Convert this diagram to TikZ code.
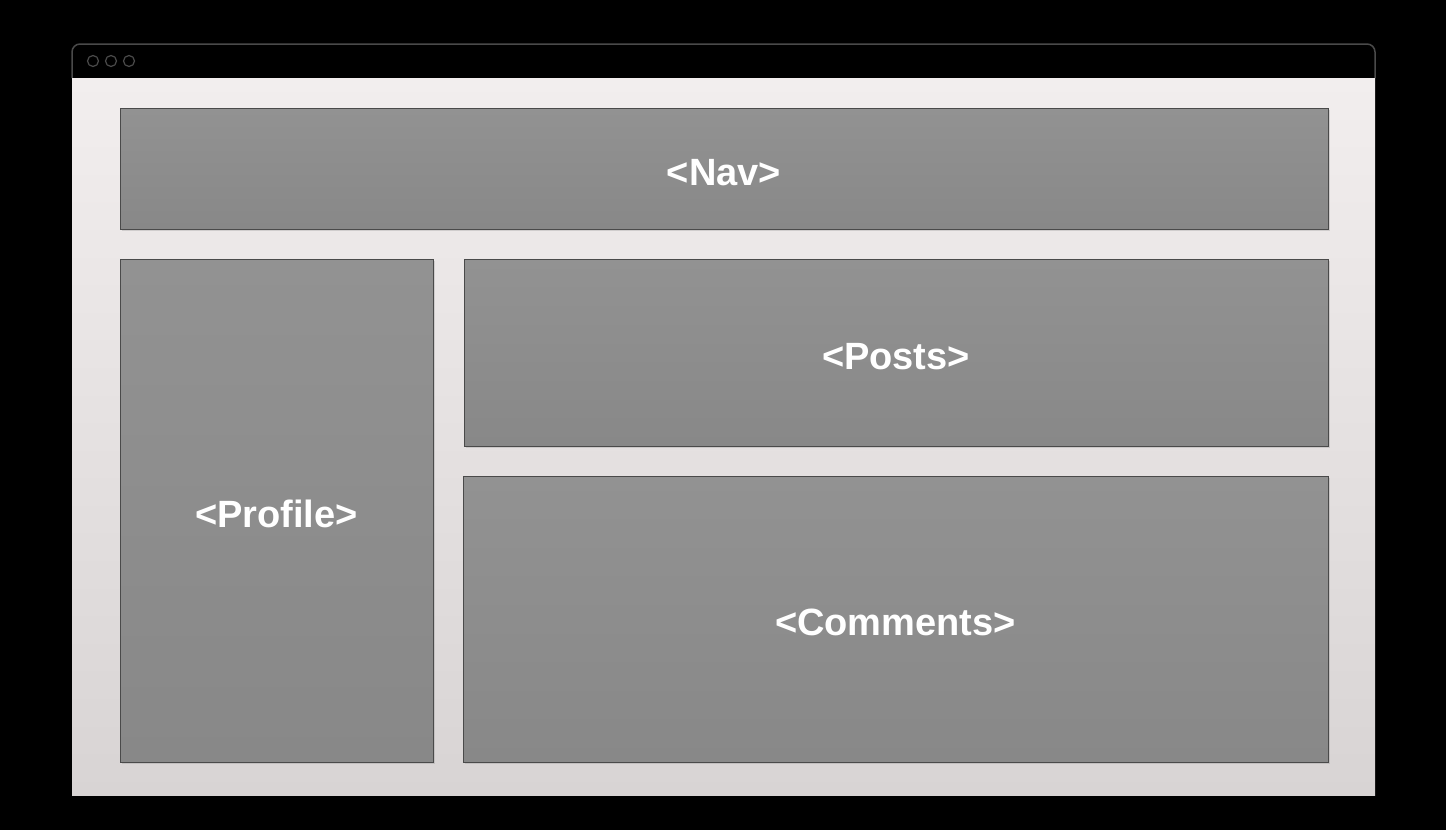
\documentclass[tikz,border=0pt]{standalone}
\usepackage{fontspec}
\setmainfont{Liberation Sans}
\usetikzlibrary{positioning,shadows}

\definecolor{pagebg}{HTML}{F2EEEE}
\definecolor{pagebot}{HTML}{D8D4D4}
\definecolor{boxtop}{HTML}{929292}
\definecolor{boxbot}{HTML}{888888}
\definecolor{rimgray}{HTML}{4A4A4A}

\tikzset{
  compbox/.style={draw=rimgray, line width=1pt, top color=boxtop, bottom color=boxbot,
    drop shadow={opacity=.25, shadow xshift=2pt, shadow yshift=-2pt},
    text=white, font=\bfseries\fontsize{38}{42}\selectfont, inner sep=0pt,
    text height=33pt, text depth=0pt},
  dot/.style={draw=rimgray, line width=1.2pt, circle, minimum size=11pt, inner sep=0pt}
}

\begin{document}
\begin{tikzpicture}[x=1pt,y=-1pt]
\useasboundingbox (0,0) rectangle (1446,830);
\fill[black] (0,0) rectangle (1446,830);

% window frame
\draw[rimgray, line width=1.5pt, fill=black] (72,78) -- (72,52) arc (180:270:8) -- (1367,44) arc (270:360:8) -- (1375,78);
\shade[top color=pagebg, bottom color=pagebot] (72,78) rectangle (1375,795);

\node[dot] (d1) at (93,61) {};
\node[dot] (d2) at (111,61) {};
\node[dot] (d3) at (129,61) {};

% components
\node[compbox, minimum width=1208pt, minimum height=121pt] (nav) at (724,168.5) {<Nav>};
\node[compbox, minimum width=313pt, minimum height=503pt] (profile) at (276.5,510.5) {<Profile>};
\node[compbox, minimum width=864pt, minimum height=187pt] (posts) at (896,352.5) {<Posts>};
\node[compbox, minimum width=865pt, minimum height=286pt] (comments) at (895.5,619) {<Comments>};
\end{tikzpicture}
\end{document}
